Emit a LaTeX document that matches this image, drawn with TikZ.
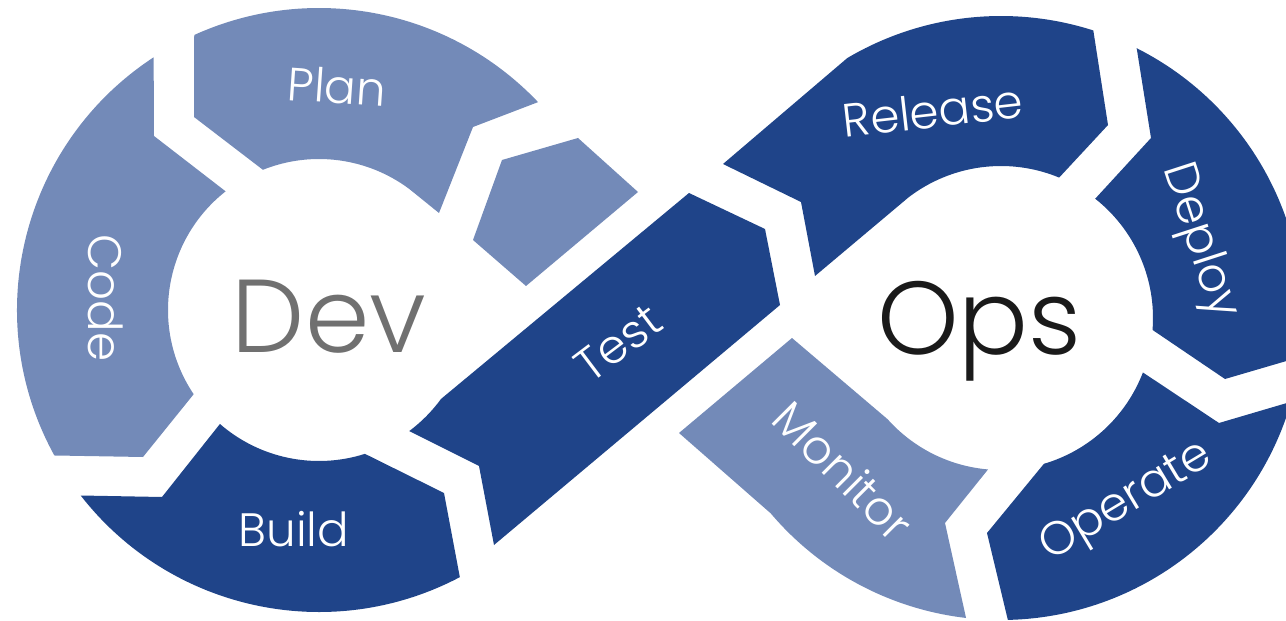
\documentclass[tikz,border=0pt]{standalone}
\usepackage{fontspec}
\setmainfont{Poppins Light}
\usetikzlibrary{calc}
\definecolor{darkb}{HTML}{1F4489}
\definecolor{lightb}{HTML}{738AB8}
\definecolor{devgray}{HTML}{707070}
\definecolor{opsblack}{HTML}{1A1A1A}
\begin{document}
\begin{tikzpicture}[x=1bp,y=-1bp,
  darkseg/.style={fill=darkb},
  lightseg/.style={fill=lightb},
  lbl/.style={text=white, font=\fontsize{47}{50}\selectfont, inner sep=0pt, text height=33bp, text depth=0bp},
  big/.style={font=\fontsize{104}{110}\selectfont, inner sep=0pt, anchor=base}]
\useasboundingbox (0,0) rectangle (1286,621);
\clip (0,0) rectangle (1286,621);
\coordinate (L) at (319,310);
\coordinate (O) at (1001,318);
% ---- Dev ring ----
% Plan
\path[lightseg] ($(L)+(-114.4:302)$) arc[start angle=-114.4, end angle=-43.5, radius=302]
  -- (473,127) -- (439,213) -- ($(L)+(-53.3:151)$) arc[start angle=-53.3, end angle=-111.8, radius=151]
  -- (194,117) -- cycle;
% Code
\path[lightseg] ($(L)+(-123.2:302)$) -- (154,136) -- ($(L)+(-128.2:151)$)
  arc[start angle=-128.2, end angle=-213.9, radius=151] -- (143,457)
  -- ($(L)+(151.2:302)$) arc[start angle=151.2, end angle=236.8, radius=302] -- cycle;
% Build
\path[darkseg] ($(L)+(142.1:302)$) -- (162,497) -- ($(L)+(131:151)$)
  arc[start angle=131, end angle=72.3, radius=151] -- (444,493)
  -- ($(L)+(62.2:302)$) arc[start angle=62.2, end angle=142.1, radius=302] -- cycle;
% small piece
\path[lightseg] (502,160) -- (578,138) -- (638,192) -- (526,286) -- (473,240) -- cycle;
% Test
\path[darkseg] (689,193) -- (765,229) -- (780,305) -- (494,545) -- (479,466)
  -- ($(L)+(53.3:151)$) arc[start angle=53.3, end angle=36.1, radius=151] -- cycle;
% ---- Ops ring ----
% Release
\path[darkseg] (723,164) -- ($(O)+(-120.6:302)$) arc[start angle=-120.6, end angle=-72.2, radius=302]
  -- (1108,125) -- ($(O)+(-67.5:152)$) arc[start angle=-67.5, end angle=-127.5, radius=152]
  -- (815,276) -- (801,202) -- cycle;
% Deploy
\path[darkseg] ($(O)+(-63.3:302)$) arc[start angle=-63.3, end angle=7.4, radius=302]
  -- (1225,379) -- ($(O)+(4.5:152)$) arc[start angle=4.5, end angle=-51.7, radius=152]
  -- (1151,138) -- cycle;
% Operate
\path[darkseg] ($(O)+(21:152)$) -- (1219,423) -- ($(O)+(16.1:302)$)
  arc[start angle=16.1, end angle=88.7, radius=302] -- (987,533)
  -- ($(O)+(73.6:152)$) arc[start angle=73.6, end angle=21, radius=152] -- cycle;
% Monitor
\path[lightseg] (792,338) -- ($(O)+(138.2:152)$) arc[start angle=138.2, end angle=94.9, radius=152]
  -- (945,523) -- ($(O)+(96.65:302)$) arc[start angle=96.65, end angle=139.7, radius=302]
  -- (679,433) -- cycle;
% ---- labels ----
\node[lbl, rotate=-4] (plan) at (337,87) {Plan};
\node[lbl, rotate=-90] (code) at (104.5,298) {Code};
\node[lbl] (build) at (294,530) {Build};
\node[lbl, rotate=37] (test) at (618,343) {Test};
\node[lbl, rotate=6.5] (release) at (933,111) {Release};
\node[lbl, rotate=-72] (deploy) at (1204,240) {Deploy};
\node[lbl, rotate=31] (operate) at (1124,498) {Operate};
\node[lbl, rotate=-45] (monitor) at (843,471) {Monitor};
\node[big, text=devgray] (dev) at (329,353) {Dev};
\node[big, text=opsblack] (ops) at (979.5,355) {Ops};
\end{tikzpicture}
\end{document}
